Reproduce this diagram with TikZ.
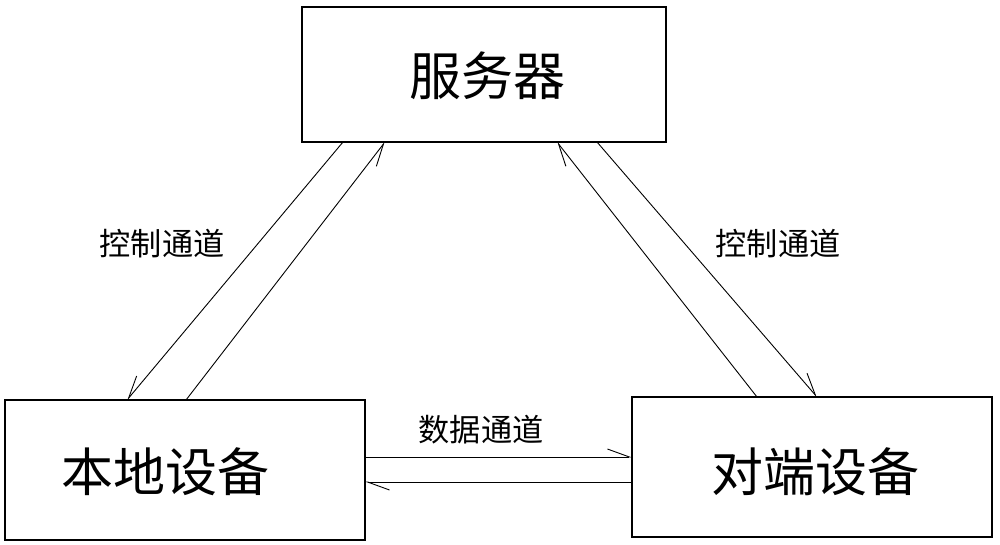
\documentclass[tikz,border=0pt]{standalone}
\usepackage{fontspec}
\setmainfont{Noto Sans CJK SC}
\usetikzlibrary{arrows.meta}
\begin{document}
\begin{tikzpicture}[x=1pt,y=-1pt,
  box/.style={draw,line width=1.3pt},
  big/.style={font=\fontsize{40}{44}\selectfont},
  lbl/.style={font=\fontsize{24}{28}\selectfont},
  ln/.style={line width=0.9pt},
  hr/.style={ln,-{Straight Barb[right,length=22pt,width=16pt]}},
  hl/.style={ln,-{Straight Barb[left,length=22pt,width=16pt]}}]
\useasboundingbox (0,0) rectangle (1000,544);
\draw[box] (302,7) rectangle (666,142);
\draw[box] (5,400) rectangle (365,540);
\draw[box] (632,397) rectangle (992,537);
\node[big,scale=1.3] (s) at (487,76) {服务器};
\node[big,scale=1.3] (l) at (165,472) {本地设备};
\node[big,scale=1.3] (r) at (815,472) {对端设备};
\coordinate (a1) at (343,142); \coordinate (a2) at (127,400);
\coordinate (b1) at (186,400); \coordinate (b2) at (385,142);
\coordinate (c1) at (597,142); \coordinate (c2) at (817,397);
\coordinate (d1) at (757,397); \coordinate (d2) at (557,142);
\coordinate (e1) at (365,457); \coordinate (e2) at (632,457);
\coordinate (f1) at (632,482); \coordinate (f2) at (365,482);
\draw[hr] (a1) -- (a2);
\draw[hr] (b1) -- (b2);
\draw[hl] (c1) -- (c2);
\draw[hl] (d1) -- (d2);
\draw[hl] (e1) -- (e2);
\draw[hl] (f1) -- (f2);
\node[lbl,scale=1.3] (t1) at (162,244) {控制通道};
\node[lbl,scale=1.3] (t2) at (778,244) {控制通道};
\node[lbl,scale=1.3] (t3) at (481,430) {数据通道};
\end{tikzpicture}
\end{document}
